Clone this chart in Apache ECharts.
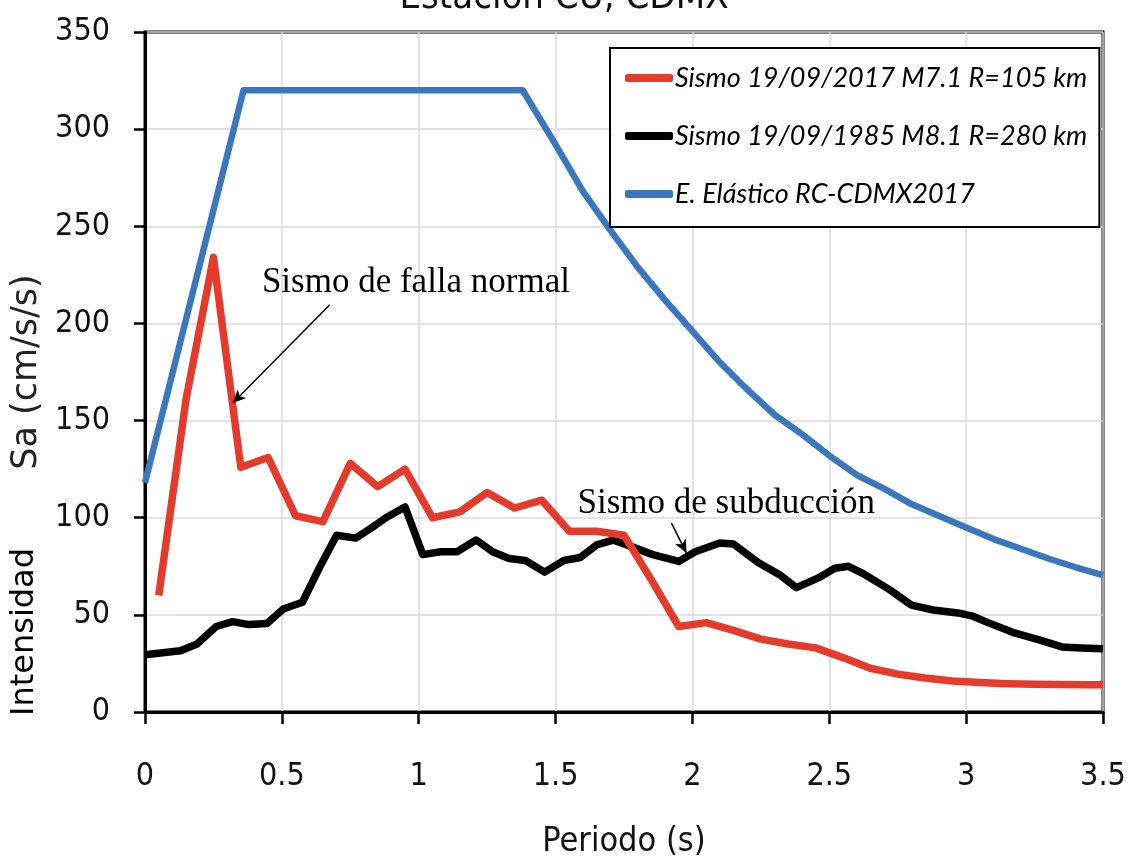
<!DOCTYPE html>
<html>
<head>
<meta charset="utf-8">
<script src="https://cdn.jsdelivr.net/npm/echarts@6/dist/echarts.min.js"></script>
<style>
  html, body { margin: 0; padding: 0; background: #fff; }
  #chart { width: 1128px; height: 864px; }
</style>
</head>
<body>
<div id="chart"></div>
<script>
// Sismo 19/09/2017 M7.1 (red)
const periods2017 = [0.05, 0.15, 0.25, 0.35, 0.45, 0.55, 0.65, 0.75, 0.85, 0.95, 1.05, 1.15, 1.25, 1.35, 1.45, 1.55, 1.65, 1.75, 1.85, 1.95, 2.05, 2.15, 2.25, 2.35, 2.45, 2.55, 2.65, 2.75, 2.85, 2.95, 3.05, 3.15, 3.25, 3.35, 3.45, 3.5];
const sa2017 = [60, 161, 234, 126, 131, 101, 98, 128, 116, 125, 100, 103, 113, 105, 109, 93, 93, 91, 68, 44, 46, 42, 37.5, 35, 33, 28, 22.5, 19.5, 17.5, 16, 15.2, 14.6, 14.3, 14.1, 14, 14];

// Sismo 19/09/1985 M8.1 (black)
const periods1985 = [0, 0.13, 0.19, 0.26, 0.32, 0.38, 0.445, 0.505, 0.575, 0.64, 0.7, 0.77, 0.83, 0.88, 0.95, 1.015, 1.08, 1.14, 1.21, 1.27, 1.33, 1.39, 1.46, 1.53, 1.59, 1.65, 1.71, 1.78, 1.855, 1.95, 2.01, 2.1, 2.15, 2.24, 2.32, 2.38, 2.46, 2.52, 2.57, 2.62, 2.72, 2.8, 2.88, 2.97, 3.02, 3.08, 3.17, 3.27, 3.35, 3.42, 3.5];
const sa1985 = [29.5, 31.5, 35, 44, 46.5, 45, 45.5, 53, 56.5, 75, 91, 89.5, 95, 100, 105.5, 81, 82.5, 82.5, 88.5, 82.5, 79, 78, 72, 78, 79.5, 86, 88.5, 85, 81, 77.5, 82.5, 87, 86.5, 77, 70.5, 64, 69, 74, 75, 71.5, 63, 55, 52.5, 51, 49.5, 46, 41, 37, 33.5, 33, 32.5];

// E. Elástico RC-CDMX2017 (blue)
const periodsDesign = [0, 0.36, 1.38, 1.5, 1.6, 1.7, 1.8, 1.9, 2.0, 2.1, 2.2, 2.3, 2.4, 2.5, 2.6, 2.7, 2.8, 2.9, 3.0, 3.1, 3.2, 3.3, 3.4, 3.5];
const saDesign = [118, 320, 320, 292, 268, 248, 229, 212, 196, 180, 166, 153, 143, 132, 122, 115, 107, 101, 95, 89, 84, 79, 74.5, 70.5];

const seriesNames = ['Sismo 19/09/2017 M7.1 R=105 km', 'Sismo 19/09/1985 M8.1 R=280 km', 'E. Elástico RC-CDMX2017'];

// annotation arrows, [from, to] in (periodo, Sa)
const arrows = [
  [[0.675, 209.6], [0.321, 159]],
  [[1.923, 97.3], [1.978, 81.9]]
];
// annotation texts, left / middle anchor in (periodo, Sa)
const notes = [
  { text: 'Sismo de falla normal', at: [0.427, 221] },
  { text: 'Sismo de subducción', at: [1.58, 107] }
];

const zip = (xs, ys) => xs.map((x, i) => [x, ys[i]]);

const cond = '"DejaVu Sans Condensed", "DejaVu Sans", sans-serif';

const chart = echarts.init(document.getElementById('chart'));

const option = {
  animation: false,
  backgroundColor: '#fff',
  title: {
    text: 'Estación CU, CDMX',
    left: 'center',
    top: -21,
    padding: 0,
    textStyle: { fontFamily: cond, fontSize: 38, fontWeight: 'normal', color: '#111' }
  },
  grid: {
    left: 145, right: 25, top: 32, bottom: 152,
    outerBoundsMode: 'none',
    show: true, borderColor: '#000', borderWidth: 3
  },
  legend: {
    orient: 'vertical',
    left: 610, top: 48,
    padding: [10, 12, 13, 15],
    itemGap: 18,
    itemWidth: 48, itemHeight: 8,
    icon: 'roundRect',
    borderColor: '#000', borderWidth: 2,
    backgroundColor: '#fff',
    selectedMode: false,
    textStyle: { fontFamily: 'Lato, sans-serif', fontStyle: 'italic', fontSize: 27, color: '#000', lineHeight: 40, padding: [0, 0, 0, -3] },
    data: seriesNames
  },
  xAxis: {
    type: 'value', min: 0, max: 3.5, interval: 0.5,
    name: 'Periodo (s)', nameLocation: 'middle', nameGap: 113,
    nameTextStyle: { fontFamily: cond, fontSize: 34, color: '#111' },
    axisLine: { lineStyle: { color: '#000', width: 3 } },
    axisTick: { show: true, length: 12, lineStyle: { color: '#000', width: 2.5 } },
    axisLabel: { fontFamily: cond, fontSize: 32, color: '#111', margin: 49 },
    splitLine: { lineStyle: { color: '#d9d9d9', width: 1.5 } }
  },
  yAxis: {
    type: 'value', min: 0, max: 350, interval: 50,
    name: 'Sa (cm/s/s)', nameLocation: 'middle', nameGap: 70, nameRotate: 90,
    nameTextStyle: { fontFamily: '"DejaVu Sans", sans-serif', fontSize: 35, color: '#222' },
    axisLine: { lineStyle: { color: '#000', width: 3 } },
    axisTick: { show: true, length: 11, lineStyle: { color: '#000', width: 2.5 } },
    axisLabel: { fontFamily: cond, fontSize: 32, color: '#111', margin: 35 },
    splitLine: { lineStyle: { color: '#d9d9d9', width: 1.5 } }
  },
  series: [
    {
      name: seriesNames[0], type: 'line', symbol: 'none', z: 4,
      color: '#e53b2c',
      lineStyle: { width: 7.5, color: '#e53b2c', join: 'round' },
      data: zip(periods2017, sa2017)
    },
    {
      name: seriesNames[1], type: 'line', symbol: 'none', z: 3,
      color: '#000',
      lineStyle: { width: 7.5, color: '#000', join: 'round' },
      data: zip(periods1985, sa1985),
      markLine: {
        silent: true,
        symbol: ['none', 'arrow'],
        symbolSize: [9, 13],
        label: { show: false },
        lineStyle: { color: '#000', width: 1.5, type: 'solid' },
        data: arrows.map(a => [{ coord: a[0] }, { coord: a[1] }])
      }
    },
    {
      name: seriesNames[2], type: 'line', symbol: 'none', z: 2,
      color: '#3b77bd',
      lineStyle: { width: 6.5, color: '#3b77bd', join: 'round' },
      data: zip(periodsDesign, saDesign)
    }
  ]
};

chart.setOption(option);

// texts: annotations placed from data coords, plus the side label
const graphics = notes.map(n => {
  const p = chart.convertToPixel({ gridIndex: 0 }, n.at);
  return {
    type: 'text', x: p[0], y: p[1], z: 10,
    style: {
      text: n.text, fill: '#000',
      font: '35px "Liberation Serif", "Times New Roman", serif',
      align: 'left', verticalAlign: 'middle'
    }
  };
});
graphics.push({
  type: 'text', x: 25, y: 632, rotation: Math.PI / 2, z: 10,
  style: {
    text: 'Intensidad', fill: '#000',
    font: '32px "DejaVu Sans", sans-serif',
    align: 'center', verticalAlign: 'middle'
  }
});
chart.setOption({ graphic: graphics });
</script>
</body>
</html>
